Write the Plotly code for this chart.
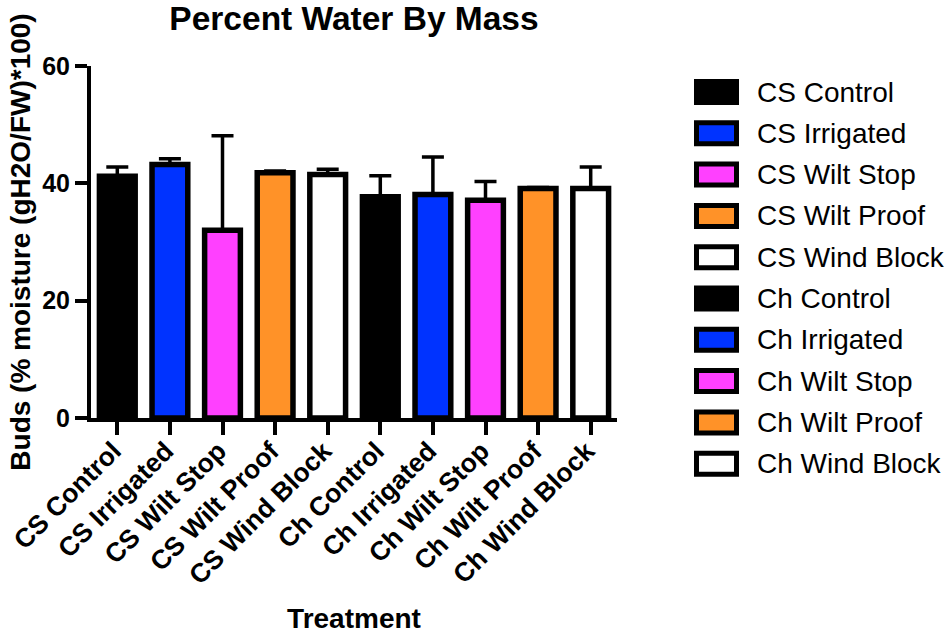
import plotly.graph_objects as go

# ---- data ----
categories = ["CS Control", "CS Irrigated", "CS Wilt Stop", "CS Wilt Proof", "CS Wind Block",
              "Ch Control", "Ch Irrigated", "Ch Wilt Stop", "Ch Wilt Proof", "Ch Wind Block"]
means = [41.2, 43.2, 32.0, 41.8, 41.5, 37.7, 38.1, 37.1, 39.1, 39.1]
errors_up = [1.6, 1.0, 16.1, 0.3, 0.9, 3.6, 6.4, 3.2, 0.2, 3.7]
bar_colors = ["#000000", "#0033FF", "#FF40FF", "#FF9228", "#FFFFFF",
              "#000000", "#0033FF", "#FF40FF", "#FF9228", "#FFFFFF"]
y_ticks = [0, 20, 40, 60]

FONT = "Liberation Sans, Arial, sans-serif"
W, H = 947, 635
ML, MR, MT, MB = 91, 330, 66, 217
PW, PH = W - ML - MR, H - MT - MB


def px2x(px):
    return (px - ML) / PW


def px2y(py):
    return (H - MB - py) / PH


fig = go.Figure()
fig.add_trace(go.Bar(
    x=categories, y=means,
    marker=dict(color=bar_colors, line=dict(color="black", width=5.5)),
    width=0.68,
    error_y=dict(type="data", array=errors_up, arrayminus=[0] * len(means), symmetric=False,
                 color="black", thickness=3.5, width=11),
    showlegend=False,
))

# manual legend (large swatches like the reference)
shapes = []
annotations = []
for i, (name, col) in enumerate(zip(categories, bar_colors)):
    cy = 92 + i * 41.3
    shapes.append(dict(type="rect", xref="paper", yref="paper",
                       x0=px2x(696.5), x1=px2x(736.5), y0=px2y(cy + 10.5), y1=px2y(cy - 10.5),
                       fillcolor=col, line=dict(color="black", width=5)))
    annotations.append(dict(xref="paper", yref="paper", x=px2x(755), y=px2y(cy),
                            xanchor="left", yanchor="middle", text=name, showarrow=False,
                            font=dict(family=FONT, size=28, color="black")))

fig.update_layout(
    width=W, height=H,
    margin=dict(l=ML, r=MR, t=MT, b=MB, autoexpand=False),
    paper_bgcolor="white", plot_bgcolor="white",
    font=dict(family=FONT, color="black"),
    title=dict(text="Percent Water By Mass", x=354 / W, xanchor="center",
               y=1 - 18 / H, yanchor="middle", yref="container",
               font=dict(family=FONT, size=33.5, weight="bold", color="black")),
    xaxis=dict(range=[-0.5, 9.5], showline=True, linecolor="black", linewidth=4,
               ticks="outside", ticklen=13, tickwidth=3.5, tickcolor="black",
               tickangle=-45, ticklabelstandoff=-10, ticklabelshift=-4,
               tickfont=dict(family=FONT, size=26.5, weight="bold", color="black"),
               showgrid=False, zeroline=False, automargin=False,
               title=dict(text="Treatment", standoff=20,
                          font=dict(family=FONT, size=28, weight="bold", color="black"))),
    yaxis=dict(range=[0, 60], tickvals=y_ticks, showline=True, linecolor="black", linewidth=4,
               ticks="outside", ticklen=12, tickwidth=3.5, tickcolor="black",
               tickfont=dict(family=FONT, size=25, weight="bold", color="black"),
               showgrid=False, zeroline=False, automargin=False,
               title=dict(text="Buds (% moisture (gH2O/FW)*100)", standoff=4,
                          font=dict(family=FONT, size=28, weight="bold", color="black"))),
    shapes=shapes,
    annotations=annotations,
)

fig.write_html("out.html", config={"displayModeBar": False},
               post_script="document.body.style.margin='0';")
